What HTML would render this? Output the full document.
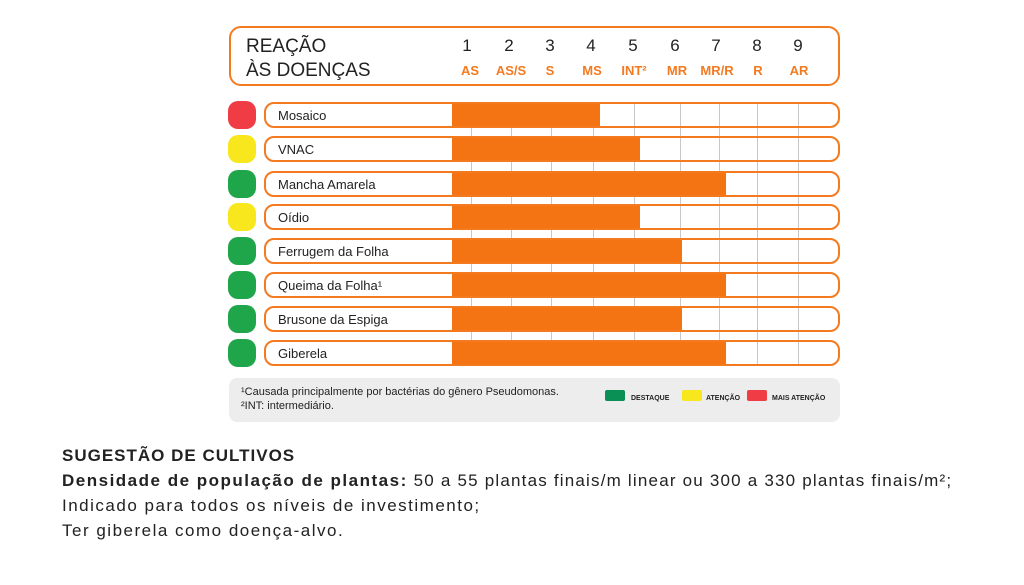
<!DOCTYPE html>
<html><head><meta charset="utf-8"><style>
*{margin:0;padding:0;box-sizing:border-box}
body{width:1024px;height:585px;background:#fff;font-family:"Liberation Sans",sans-serif;position:relative;overflow:hidden;color:#222}
.a{position:absolute}
.hdr{left:229px;top:26px;width:611px;height:60px;border:2px solid #f47a20;border-radius:12px}
.t{font-size:19px;color:#222;line-height:24px}
.n{font-size:17px;width:40px;text-align:center;top:36px}
.l{font-size:13px;font-weight:bold;color:#f47a20;width:50px;text-align:center;top:63px}
.row{left:264px;width:576px;height:26px;border:2px solid #f47a20;border-radius:10px;overflow:hidden;background:#fff}
.row span{position:absolute;left:12px;top:4px;font-size:13px}
.bar{position:absolute;top:0;bottom:0;left:186px;background:#f47312}
.g{position:absolute;top:0;bottom:0;width:1px;background:#c8c8c8}
.vg{position:absolute;top:102px;height:264px;width:1px;background:#c8c8c8}
.dot{left:228px;width:28px;height:28px;border-radius:10px}
.foot{left:229px;top:378px;width:611px;height:44px;background:#ededed;border-radius:8px;font-size:11px;line-height:14px;padding:7px 0 0 12px}
.lg{position:absolute;top:12px;width:20px;height:11px;border-radius:2px}
.lt{position:absolute;top:14px;font-size:7px;font-weight:bold}
.b{left:62px;font-size:17px;line-height:25px;letter-spacing:1.2px;white-space:nowrap}
</style></head><body>
<div class="a hdr"></div>
<div class="a t" style="left:246px;top:35px">REAÇÃO</div>
<div class="a t" style="left:246px;top:59px">ÀS DOENÇAS</div>
<div class="a n" style="left:447px">1</div><div class="a n" style="left:489px">2</div><div class="a n" style="left:530px">3</div><div class="a n" style="left:571px">4</div><div class="a n" style="left:613px">5</div><div class="a n" style="left:655px">6</div><div class="a n" style="left:696px">7</div><div class="a n" style="left:737px">8</div><div class="a n" style="left:778px">9</div>
<div class="a l" style="left:445px">AS</div><div class="a l" style="left:486px">AS/S</div><div class="a l" style="left:525px">S</div><div class="a l" style="left:567px">MS</div><div class="a l" style="left:609px">INT²</div><div class="a l" style="left:652px">MR</div><div class="a l" style="left:692px">MR/R</div><div class="a l" style="left:733px">R</div><div class="a l" style="left:774px">AR</div>

<div class="vg" style="left:471px"></div><div class="vg" style="left:511px"></div><div class="vg" style="left:551px"></div><div class="vg" style="left:593px"></div><div class="vg" style="left:634px"></div><div class="vg" style="left:680px"></div><div class="vg" style="left:719px"></div><div class="vg" style="left:757px"></div><div class="vg" style="left:798px"></div>

<div class="a dot" style="top:101px;background:#f03c44"></div>
<div class="a dot" style="top:135px;background:#f8e71c"></div>
<div class="a dot" style="top:170px;background:#1fa64a"></div>
<div class="a dot" style="top:203px;background:#f8e71c"></div>
<div class="a dot" style="top:237px;background:#1fa64a"></div>
<div class="a dot" style="top:271px;background:#1fa64a"></div>
<div class="a dot" style="top:305px;background:#1fa64a"></div>
<div class="a dot" style="top:339px;background:#1fa64a"></div>

<div class="a row" style="top:102px"><div class="g" style="left:368px"></div><div class="g" style="left:414px"></div><div class="g" style="left:453px"></div><div class="g" style="left:491px"></div><div class="g" style="left:532px"></div><div class="bar" style="width:148px"></div><span>Mosaico</span></div>
<div class="a row" style="top:136px"><div class="g" style="left:414px"></div><div class="g" style="left:453px"></div><div class="g" style="left:491px"></div><div class="g" style="left:532px"></div><div class="bar" style="width:188px"></div><span>VNAC</span></div>
<div class="a row" style="top:171px"><div class="g" style="left:491px"></div><div class="g" style="left:532px"></div><div class="bar" style="width:274px"></div><span>Mancha Amarela</span></div>
<div class="a row" style="top:204px"><div class="g" style="left:414px"></div><div class="g" style="left:453px"></div><div class="g" style="left:491px"></div><div class="g" style="left:532px"></div><div class="bar" style="width:188px"></div><span>Oídio</span></div>
<div class="a row" style="top:238px"><div class="g" style="left:453px"></div><div class="g" style="left:491px"></div><div class="g" style="left:532px"></div><div class="bar" style="width:230px"></div><span>Ferrugem da Folha</span></div>
<div class="a row" style="top:272px"><div class="g" style="left:491px"></div><div class="g" style="left:532px"></div><div class="bar" style="width:274px"></div><span>Queima da Folha¹</span></div>
<div class="a row" style="top:306px"><div class="g" style="left:453px"></div><div class="g" style="left:491px"></div><div class="g" style="left:532px"></div><div class="bar" style="width:230px"></div><span>Brusone da Espiga</span></div>
<div class="a row" style="top:340px"><div class="g" style="left:491px"></div><div class="g" style="left:532px"></div><div class="bar" style="width:274px"></div><span>Giberela</span></div>

<div class="a foot">¹Causada principalmente por bactérias do gênero Pseudomonas.<br>²INT: intermediário.
<div class="lg" style="left:376px;background:#0a8f55"></div><div class="lt" style="left:402px">DESTAQUE</div>
<div class="lg" style="left:453px;background:#f8e71c"></div><div class="lt" style="left:477px">ATENÇÃO</div>
<div class="lg" style="left:518px;background:#f03c44"></div><div class="lt" style="left:543px">MAIS ATENÇÃO</div>
</div>

<div class="a b" style="top:443px;font-weight:bold;letter-spacing:1px">SUGESTÃO DE CULTIVOS</div>
<div class="a b" style="top:468px"><b style="letter-spacing:1.5px">Densidade de população de plantas:</b> 50 a 55 plantas finais/m linear ou 300 a 330 plantas finais/m²;</div>
<div class="a b" style="top:493px;letter-spacing:1.5px">Indicado para todos os níveis de investimento;</div>
<div class="a b" style="top:518px;letter-spacing:1.5px">Ter giberela como doença-alvo.</div>
</body></html>
